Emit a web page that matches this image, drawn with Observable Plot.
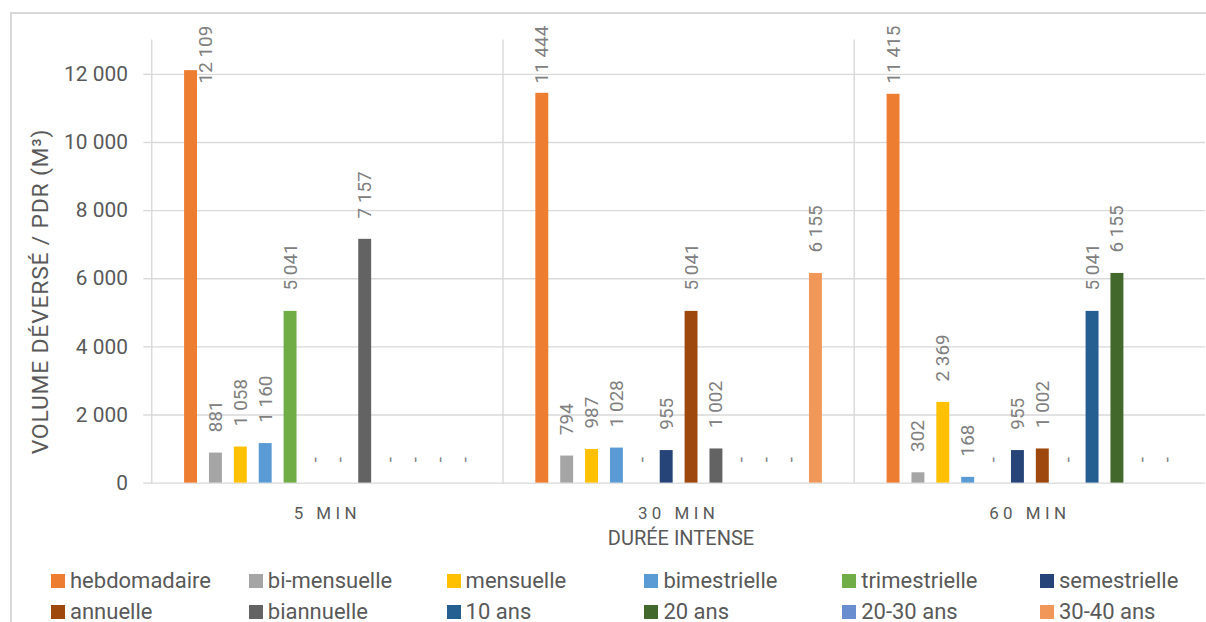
<!DOCTYPE html>
<html><head><meta charset="utf-8">
<script src="https://cdn.jsdelivr.net/npm/d3@7"></script>
<script src="https://cdn.jsdelivr.net/npm/@observablehq/plot@0.6"></script>
<style>
html,body{margin:0;padding:0;background:#fff;overflow:hidden;width:1206px;height:622px;position:relative;}
#frame{position:absolute;left:10px;top:12px;width:1300px;height:700px;border-left:2px solid #d9d9d9;border-top:2px solid #d9d9d9;}
#chart{position:absolute;left:0;top:0;}
#xtitle{position:absolute;left:151px;width:1060px;top:526px;text-align:center;font-family:Roboto,sans-serif;font-size:20px;color:#595959;}
#legend{position:absolute;left:0;top:0;width:1206px;height:622px;font-family:Roboto,sans-serif;font-size:22px;line-height:21px;color:#595959;}
.item{position:absolute;display:flex;align-items:center;white-space:nowrap;height:21px;}
.sw{width:14px;height:14px;margin-right:5px;flex:none;}
</style></head><body>
<div id="frame"></div><div id="chart"></div><div id="xtitle"></div><div id="legend"></div>
<script>
const groups = ["5 MIN", "30 MIN", "60 MIN"];
const series = ["hebdomadaire", "bi-mensuelle", "mensuelle", "bimestrielle", "trimestrielle", "semestrielle",
                "annuelle", "biannuelle", "10 ans", "20 ans", "20-30 ans", "30-40 ans"];
const colors = ["#ED7D31", "#A5A5A5", "#FFC000", "#5B9BD5", "#70AD47", "#264478",
                "#9E480E", "#636363", "#255E91", "#43682B", "#698ED0", "#F1975A"];
const values5min  = [12109, 881, 1058, 1160, 5041, 0, 0, 7157, 0, 0, 0, 0];
const values30min = [11444, 794, 987, 1028, 0, 955, 5041, 1002, 0, 0, 0, 6155];
const values60min = [11415, 302, 2369, 168, 0, 955, 1002, 0, 5041, 6155, 0, 0];
const yTicks = [0, 2000, 4000, 6000, 8000, 10000, 12000];
const yTitle = "VOLUME DÉVERSÉ / PDR (M³)";
const xTitle = "DURÉE INTENSE";

const valuesByGroup = [values5min, values30min, values60min];
const data = [];
groups.forEach((g, gi) => series.forEach((s, si) => data.push({group: g, series: s, value: valuesByGroup[gi][si]})));

const fmt = d3.formatLocale({decimal: ",", thousands: "\u00a0", grouping: [3], currency: ["", ""]}).format(",d");
const labelCap = 11120;   // labels of the tallest bars are held below the chart top
const gridMax = d3.max(yTicks);

const labelOpts = {
  fx: "group", x: "series", y: d => Math.min(d.value, labelCap),
  text: d => d.value ? fmt(d.value) : "-",
  rotate: -90, textAnchor: "start", dy: -21, fill: "#808080", fontSize: 19
};

const chart = Plot.plot({
  width: 1212, height: 560,
  marginLeft: 151, marginRight: 1, marginTop: 40, marginBottom: 75,
  style: {fontFamily: "Roboto, sans-serif", background: "transparent", overflow: "visible"},
  fx: {domain: groups, padding: 0},
  x: {domain: series, paddingInner: 0.4825, paddingOuter: 1.115, axis: null},
  y: {domain: [0, 13000], axis: null},
  color: {domain: series, range: colors},
  marks: [
    Plot.gridY(yTicks, {stroke: "#d9d9d9", strokeOpacity: 1, strokeWidth: 1.4}),
    Plot.frame({anchor: "left", stroke: "#d9d9d9", strokeWidth: 1.4}),
    Plot.axisY(yTicks, {tickFormat: fmt, tickSize: 8, tickPadding: 16, fontSize: 21,
                        stroke: "#d9d9d9", strokeWidth: 1.4, fill: "#595959", label: null}),
    Plot.axisFx({anchor: "bottom", tickSize: 0, tickPadding: 24, fontSize: 17, fill: "#595959", label: null}),
    Plot.text([yTitle], {fx: [groups[0]], text: d => d, frameAnchor: "left", textAnchor: "middle",
                         lineAnchor: "middle", rotate: -90, dx: -112, dy: 30, fontSize: 23, fill: "#595959"}),
    Plot.barY(data.filter(d => d.value > 0), {fx: "group", x: "series", y: "value", fill: "series"}),
    Plot.text(data.filter(d => d.value <= gridMax), labelOpts),
    Plot.text(data.filter(d => d.value > gridMax), {...labelOpts, dx: 15})
  ]
});
document.getElementById("chart").appendChild(chart);
d3.select(chart).selectAll('g[aria-label="fx-axis tick label"] text').style("letter-spacing", "4.5px");
d3.select(chart).selectAll('g[aria-label="text"] text').filter(function () { return this.textContent === yTitle; })
  .style("letter-spacing", "0.8px");
document.getElementById("xtitle").textContent = xTitle;

const legend = document.getElementById("legend");
series.forEach((s, i) => {
  const row = Math.floor(i / 6), col = i % 6;
  const item = document.createElement("div");
  item.className = "item";
  item.style.left = (51 + col * 197.8) + "px";
  item.style.top = (570 + row * 31) + "px";
  const sw = document.createElement("span");
  sw.className = "sw"; sw.style.background = colors[i];
  const t = document.createElement("span");
  t.textContent = s;
  item.appendChild(sw); item.appendChild(t);
  legend.appendChild(item);
});
</script>
</body></html>
